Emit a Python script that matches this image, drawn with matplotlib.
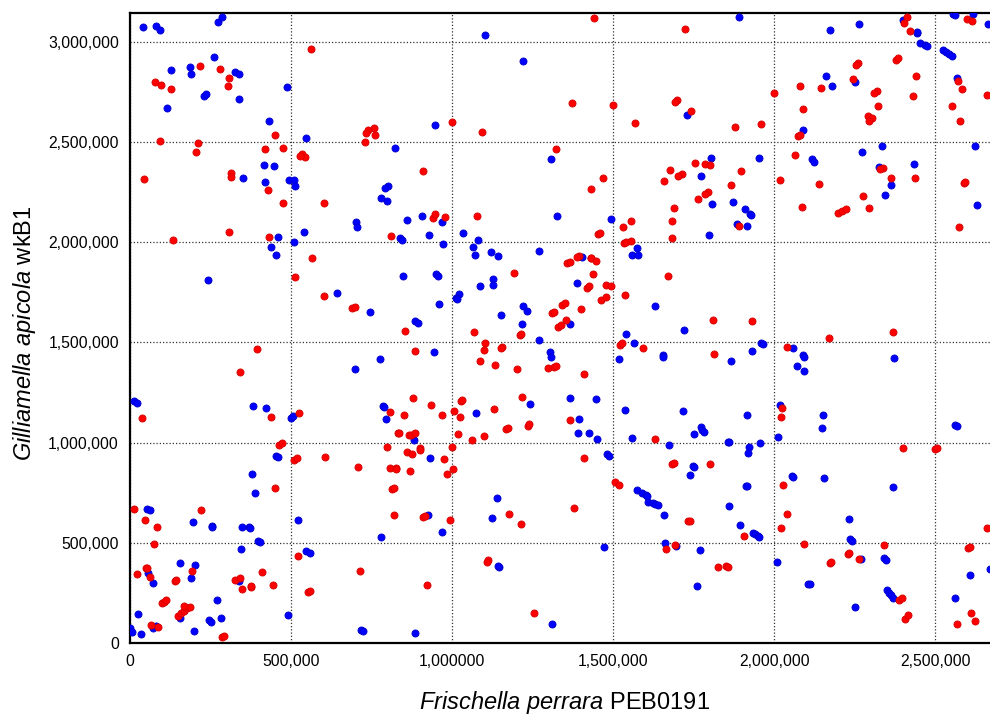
import numpy as np
import matplotlib
matplotlib.use("Agg")
import matplotlib.pyplot as plt

plt.rcParams['font.family'] = ['Liberation Sans', 'DejaVu Sans']
plt.rcParams['mathtext.fontset'] = 'custom'
plt.rcParams['mathtext.rm'] = 'Liberation Sans'
plt.rcParams['mathtext.it'] = 'Liberation Sans:italic'

# positions in kb: (Frischella perrara PEB0191, Gilliamella apicola wkB1)
# blue = forward matches, red = reverse matches
blue_hits = [
    (40, 3076), (81, 3081), (94, 3060), (273, 3098), (285, 3124), (262, 2925), (128, 2860), (185, 2874),
    (188, 2839), (327, 2849), (337, 2839), (231, 2731), (237, 2742), (338, 2715), (116, 2670), (488, 2777),
    (430, 2603), (545, 2520), (415, 2386), (448, 2379), (352, 2323), (418, 2303), (493, 2309), (508, 2313),
    (511, 2283), (1102, 3036), (1220, 2904), (948, 2587), (822, 2472), (1307, 2414), (801, 2279), (793, 2273),
    (780, 2220), (799, 2207), (906, 2132), (861, 2110), (967, 2100), (701, 2099), (704, 2077), (1325, 2133),
    (1889, 3126), (1729, 2635), (1805, 2421), (1952, 2422), (1773, 2329), (1871, 2203), (1808, 2190),
    (1909, 2168), (1924, 2143), (1929, 2135), (1885, 2090), (1916, 2082), (1492, 2115),
    (2172, 3060), (2264, 3090), (2400, 3110), (2442, 3043), (2443, 3050), (2452, 2992), (2467, 2986),
    (2475, 2978), (2554, 3138), (2561, 3133), (2618, 3139), (2523, 2957), (2533, 2947), (2542, 2937),
    (2551, 2927), (2159, 2832), (2178, 2779), (2250, 2799), (2567, 2819), (2088, 2558), (2333, 2482),
    (2622, 2478), (2273, 2451), (2116, 2417), (2124, 2399), (2325, 2374), (2434, 2389), (2363, 2284),
    (2343, 2234), (2628, 2185), (2662, 3090),
    (459, 2025), (539, 2052), (510, 2000), (437, 1974), (452, 1938), (242, 1810), (644, 1745), (13, 1206),
    (21, 1196), (381, 1184), (423, 1172), (501, 1122), (506, 1131),
    (837, 2019), (844, 2012), (928, 2037), (973, 1992), (1033, 2047), (1081, 2010), (1066, 1974), (1070, 1936),
    (1122, 1953), (1141, 1931), (1269, 1956), (846, 1831), (951, 1840), (957, 1833), (1128, 1815), (1126, 1786),
    (1085, 1780), (958, 1694), (1020, 1743), (1013, 1724), (1016, 1715), (744, 1652), (886, 1607), (893, 1596),
    (1220, 1682), (1231, 1657), (1153, 1635), (1216, 1592), (1269, 1511), (944, 1451), (776, 1416), (697, 1368),
    (1304, 1453), (1306, 1425), (785, 1181), (787, 1176), (796, 1119), (1073, 1149), (1241, 1194),
    (1404, 1928), (1574, 1973), (1559, 1934), (1576, 1936), (1798, 2034), (1388, 1798), (1629, 1680),
    (1365, 1592), (1541, 1544), (1720, 1561), (1564, 1497), (1517, 1418), (1653, 1438), (1655, 1428),
    (1864, 1406), (1930, 1456), (1960, 1496), (1964, 1491), (1367, 1224), (1448, 1216), (1538, 1162),
    (1717, 1156), (1916, 1139), (1395, 1116), (1390, 1048), (1424, 1046), (1450, 1018), (1557, 1021),
    (1771, 1078), (1777, 1061), (1783, 1054), (1752, 1041),
    (2059, 1473), (2089, 1438), (2092, 1428), (2370, 1421), (2069, 1380), (2091, 1357), (2017, 1189),
    (2150, 1136), (2147, 1073), (2012, 1029), (2562, 1088), (2567, 1083),
    (454, 933), (458, 930), (380, 844), (387, 750), (52, 671), (61, 663), (196, 603), (253, 585), (256, 580),
    (348, 580), (369, 580), (372, 576), (522, 615), (397, 511), (405, 505), (344, 470), (546, 459), (560, 449),
    (156, 397), (202, 389), (57, 351), (189, 322), (72, 297), (337, 307), (269, 213), (26, 143), (154, 123),
    (244, 117), (251, 107), (283, 123), (491, 138), (1, 75), (6, 53), (33, 47), (71, 77), (81, 85), (200, 62),
    (881, 1014), (931, 923), (1140, 726), (1125, 624), (924, 641), (967, 555), (779, 531), (1144, 379),
    (1142, 385), (718, 67), (723, 62), (886, 50), (1309, 97),
    (1673, 987), (1856, 1004), (1859, 1004), (1921, 978), (1919, 948), (1955, 998), (1482, 942), (1488, 935),
    (1749, 883), (1750, 878), (1738, 840), (1912, 785), (1914, 782), (1575, 765), (1589, 750), (1601, 738),
    (1605, 733), (1609, 706), (1622, 699), (1629, 694), (1639, 691), (1657, 641), (1859, 684), (1894, 590),
    (1933, 551), (1940, 545), (1948, 536), (1952, 530), (1472, 480), (1660, 501), (1696, 482), (1768, 462),
    (1760, 286),
    (2054, 835), (2057, 830), (2153, 825), (2368, 777), (2233, 620), (2235, 520), (2241, 511), (2009, 404),
    (2268, 419), (2340, 422), (2348, 415), (2105, 296), (2110, 292), (2251, 178), (2349, 266), (2356, 250),
    (2361, 238), (2367, 225), (2607, 337), (2561, 226), (2669, 371),
]

red_hits = [
    (561, 2965), (216, 2882), (280, 2867), (308, 2821), (304, 2782), (77, 2799), (97, 2787), (126, 2764),
    (93, 2503), (211, 2497), (206, 2451), (449, 2533), (419, 2467), (476, 2469), (534, 2442), (542, 2426),
    (529, 2429), (44, 2314), (314, 2348), (313, 2324), (427, 2259), (476, 2197), (603, 2197),
    (739, 2558), (734, 2545), (757, 2568), (759, 2537), (731, 2498), (1000, 2600), (1094, 2552), (1321, 2466),
    (908, 2354), (940, 2122), (946, 2143), (979, 2127), (1078, 2130),
    (1439, 3121), (1724, 3066), (1372, 2695), (1500, 2686), (1697, 2711), (1691, 2698), (1742, 2653),
    (1568, 2595), (1878, 2577), (1958, 2590), (1755, 2396), (1785, 2391), (1799, 2384), (1712, 2343),
    (1701, 2333), (1677, 2361), (1898, 2358), (1659, 2304), (1468, 2319), (1430, 2266), (1867, 2286),
    (1795, 2250), (1786, 2241), (1764, 2217), (1688, 2170), (1681, 2107), (1555, 2105), (1529, 2074),
    (1889, 2082), (2000, 2747),
    (2411, 3126), (2403, 3093), (2421, 3055), (2597, 3113), (2615, 3106), (2259, 2894), (2253, 2885),
    (2377, 2907), (2385, 2919), (2441, 2832), (2243, 2816), (2080, 2781), (2144, 2769), (2318, 2756),
    (2309, 2746), (2431, 2731), (2090, 2666), (2323, 2680), (2290, 2628), (2304, 2620), (2295, 2607),
    (2073, 2528), (2079, 2535), (2569, 2807), (2582, 2764), (2552, 2680), (2576, 2606), (2660, 2734),
    (2064, 2437), (2336, 2371), (2328, 2367), (2018, 2313), (2139, 2289), (2362, 2319), (2437, 2321),
    (2275, 2230), (2086, 2178), (2198, 2147), (2211, 2157), (2223, 2165), (2293, 2172), (2588, 2296),
    (2592, 2301), (2574, 2074),
    (306, 2052), (133, 2009), (432, 2027), (565, 1923), (513, 1826), (601, 1730), (395, 1465), (342, 1350),
    (36, 1124), (439, 1129), (524, 1147),
    (811, 2030), (1193, 1846), (690, 1672), (697, 1677), (855, 1557), (1067, 1551), (1310, 1649), (1315, 1654),
    (1327, 1577), (1210, 1537), (1213, 1544), (1101, 1499), (1100, 1460), (1156, 1478), (1151, 1473),
    (884, 1455), (1086, 1408), (1133, 1385), (1200, 1368), (1297, 1371), (1316, 1375), (1322, 1383),
    (878, 1221), (933, 1189), (1027, 1207), (1032, 1212), (1218, 1226), (806, 1154), (849, 1139), (968, 1136),
    (1007, 1159), (1024, 1127), (1130, 1166), (831, 1049), (835, 1046), (865, 1036), (873, 1039), (884, 1048),
    (1018, 1043), (1098, 1031), (1061, 1013), (1166, 1068), (1172, 1073), (1235, 1084), (1239, 1093),
    (1454, 2039), (1459, 2044), (1534, 1994), (1541, 2000), (1554, 2007), (1683, 2022), (1393, 1929),
    (1389, 1928), (1430, 1919), (1432, 1923), (1445, 1908), (1357, 1896), (1365, 1903), (1436, 1841),
    (1419, 1771), (1424, 1780), (1477, 1786), (1492, 1780), (1463, 1710), (1476, 1727), (1538, 1736),
    (1669, 1830), (1400, 1667), (1341, 1685), (1349, 1695), (1354, 1614), (1337, 1586), (1522, 1489),
    (1526, 1496), (1592, 1470), (1811, 1610), (1931, 1609), (1814, 1443), (1408, 1342), (1366, 1112),
    (1629, 1018),
    (2169, 1521), (2369, 1554), (2039, 1476), (2024, 1171), (2021, 1126),
    (464, 988), (471, 996), (508, 913), (518, 923), (606, 927), (450, 775), (11, 668), (219, 666), (46, 613),
    (85, 578), (75, 495), (520, 435), (49, 372), (52, 375), (23, 346), (63, 327), (193, 357), (140, 311),
    (144, 316), (409, 352), (325, 316), (340, 326), (347, 267), (375, 279), (376, 284), (444, 291), (551, 257),
    (558, 262), (100, 198), (107, 206), (112, 213), (148, 136), (159, 150), (167, 160), (178, 175), (185, 178),
    (167, 183), (65, 92), (86, 80), (287, 30), (293, 37),
    (798, 978), (860, 953), (875, 945), (900, 973), (899, 963), (998, 977), (976, 918), (708, 878), (808, 875),
    (827, 875), (826, 870), (869, 860), (1003, 868), (983, 845), (814, 767), (819, 772), (821, 639), (911, 629),
    (915, 634), (994, 616), (1176, 644), (1215, 593), (1112, 414), (1107, 405), (713, 359), (921, 287),
    (1253, 148),
    (1408, 925), (1683, 895), (1688, 900), (1801, 893), (1507, 802), (1517, 790), (1378, 676), (1732, 608),
    (1739, 611), (1905, 533), (1692, 489), (1664, 467), (1825, 377), (1849, 382), (1857, 377),
    (2399, 975), (2499, 967), (2505, 973), (2028, 790), (2039, 644), (2020, 575), (2093, 492), (2340, 487),
    (2228, 444), (2233, 447), (2263, 420), (2174, 400), (2175, 404), (2388, 215), (2397, 223), (2406, 118),
    (2416, 140), (2602, 472), (2606, 477), (2611, 151), (2624, 108), (2566, 95), (2660, 573),
]

x_ticks = [0, 500000, 1000000, 1500000, 2000000, 2500000]
x_tick_labels = ['0', '500,000', '1,000000', '1,500,000', '2,000,000', '2,500,000']
y_ticks = [0, 500000, 1000000, 1500000, 2000000, 2500000, 3000000]
y_tick_labels = ['0', '500,000', '1,000,000', '1,500,000', '2,000,000', '2,500,000', '3,000,000']

blue = np.array(blue_hits) * 1000
red = np.array(red_hits) * 1000

fig = plt.figure(figsize=(9.9, 7.16), dpi=100)
ax = fig.add_axes([130 / 990, 73 / 716, 865 / 990, 630 / 716])

ax.scatter(blue[:, 0], blue[:, 1], s=26, c='#0000ff', edgecolors='#0000c8', linewidths=0.6, zorder=3)
ax.scatter(red[:, 0], red[:, 1], s=26, c='#ff0000', edgecolors='#d40000', linewidths=0.6, zorder=3)

ax.set_xlim(0, 2685000)
ax.set_ylim(0, 3144000)
ax.set_xticks(x_ticks)
ax.set_xticklabels(x_tick_labels)
ax.set_yticks(y_ticks)
ax.set_yticklabels(y_tick_labels)
ax.tick_params(length=0, labelsize=11.3, pad=8)
ax.grid(True, color='#333333', linestyle=(0, (1, 1.6)), linewidth=0.9, zorder=0)
ax.set_axisbelow(True)

for side in ['left', 'bottom', 'top']:
    ax.spines[side].set_linewidth(1.6)
    ax.spines[side].set_color('black')
ax.spines['right'].set_visible(False)

fig.text(565 / 990, 1 - 702 / 716, r'$\mathit{Frischella\ perrara}$ PEB0191',
         ha='center', va='center', fontsize=17)
fig.text(25 / 990, 1 - 333 / 716, r'$\mathit{Gilliamella\ apicola}$ wkB1',
         ha='center', va='center', fontsize=17, rotation=90)

fig.savefig('out.png', dpi=100)
